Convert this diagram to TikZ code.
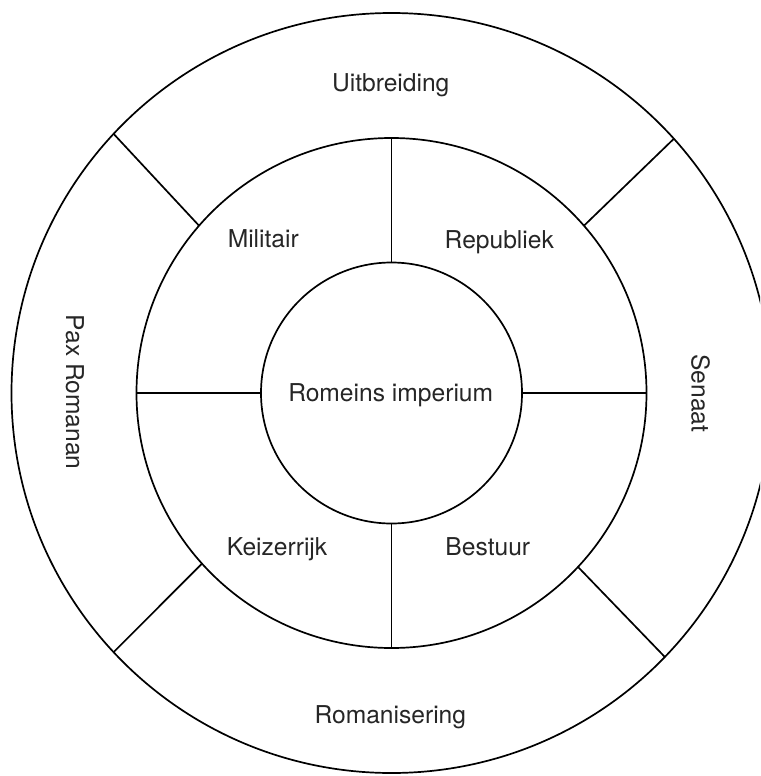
\documentclass[tikz,border=0pt]{standalone}
\usepackage{fontspec}
\setmainfont{TeX Gyre Heros}
\begin{document}
\begin{tikzpicture}[x=1pt,y=-1pt,
  ring/.style={circle,draw,line width=1.7pt,inner sep=0pt,outer sep=0pt},
  divider/.style={line width=1.7pt},
  lbl/.style={font=\fontsize{24.6}{29}\selectfont,inner sep=0pt,anchor=base,text=black!85},
  vlbl/.style={font=\fontsize{24.6}{29}\selectfont,inner sep=0pt,rotate=-90,text=black!85}]
\useasboundingbox (0,0) rectangle (760,776);
\clip (0,0) rectangle (760,776);
\node[ring,minimum size=760pt] (outer) at (391.5,393) {};
\node[ring,minimum size=510pt] (mid) at (391.5,393) {};
\node[ring,minimum size=261pt] (inner) at (391.5,393) {};
% middle ring dividers
\draw[divider] (mid.north) -- (inner.north);
\draw[divider] (mid.south) -- (inner.south);
\draw[divider] (mid.west) -- (inner.west);
\draw[divider] (mid.east) -- (inner.east);
% outer ring dividers
\draw[divider] (outer.137.6) -- (mid.139.2);
\draw[divider] (outer.42.5) -- (mid.41.1);
\draw[divider] (outer.223.4) -- (mid.222.6);
\draw[divider] (outer.316.5) -- (mid.317.2);
% labels
\node[lbl] (centre) at (390.7,401.7) {Romeins imperium};
\node[lbl] (mil) at (263.3,247.7) {Militair};
\node[lbl] (rep) at (499.3,248) {Republiek};
\node[lbl] (kei) at (277,555) {Keizerrijk};
\node[lbl] (bes) at (487.8,555) {Bestuur};
\node[lbl] (uit) at (390.7,91) {Uitbreiding};
\node[lbl] (rom) at (390.3,723) {Romanisering};
\node[vlbl] (pax) at (75,392.2) {Pax Romanan};
\node[vlbl] (sen) at (700.5,393.3) {Senaat};
\end{tikzpicture}
\end{document}
